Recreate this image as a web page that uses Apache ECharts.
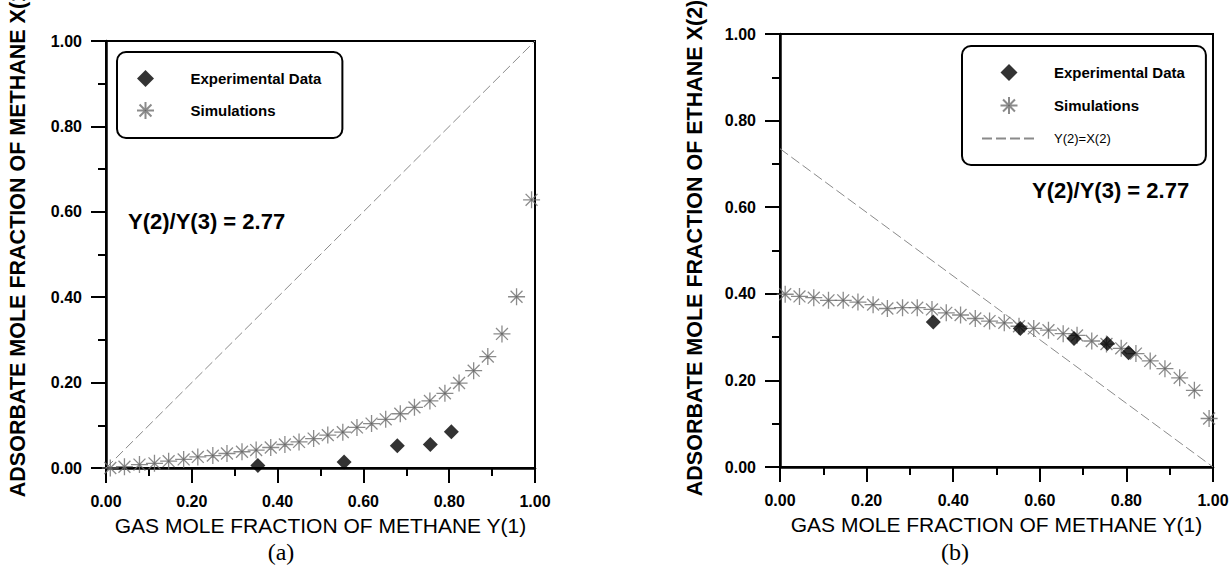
<!DOCTYPE html>
<html>
<head>
<meta charset="utf-8">
<script src="https://cdn.jsdelivr.net/npm/echarts@6.0.0/dist/echarts.min.js"></script>
<style>
  html, body { margin: 0; padding: 0; background: #fff; }
  #chart { width: 1232px; height: 565px; }
</style>
</head>
<body>
<div id="chart"></div>
<script>
// values
const simX_a = [0.010, 0.043, 0.078, 0.113, 0.146, 0.181, 0.214, 0.249, 0.282, 0.317, 0.350, 0.384, 0.417, 0.450, 0.484,
  0.517, 0.552, 0.585, 0.619, 0.652, 0.686, 0.719, 0.755, 0.790, 0.823, 0.857, 0.890, 0.923, 0.957, 0.992];
const simY_a = [0.000, 0.003, 0.008, 0.011, 0.016, 0.020, 0.026, 0.029, 0.034, 0.038, 0.042, 0.048, 0.055, 0.061, 0.069,
  0.077, 0.084, 0.095, 0.104, 0.114, 0.127, 0.142, 0.157, 0.175, 0.199, 0.228, 0.261, 0.314, 0.401, 0.628];
const expX = [0.354, 0.555, 0.679, 0.756, 0.805];
const expY_a = [0.006, 0.014, 0.052, 0.055, 0.085];
const lineX_a = [0, 1];
const lineY_a = [0, 1];

const simX_b = [0.012, 0.045, 0.078, 0.112, 0.146, 0.180, 0.215, 0.248, 0.283, 0.317, 0.351, 0.384, 0.417, 0.451, 0.484,
  0.518, 0.552, 0.586, 0.620, 0.654, 0.686, 0.720, 0.754, 0.788, 0.822, 0.855, 0.889, 0.923, 0.957, 0.991];
const simY_b = [0.399, 0.394, 0.391, 0.385, 0.385, 0.381, 0.375, 0.366, 0.368, 0.368, 0.364, 0.356, 0.351, 0.343, 0.337,
  0.333, 0.325, 0.320, 0.316, 0.308, 0.304, 0.291, 0.284, 0.274, 0.262, 0.245, 0.227, 0.206, 0.177, 0.112];
const expY_b = [0.335, 0.320, 0.297, 0.285, 0.264];
const lineX_b = [0, 1];
const lineY_b = [0.735, 0];

const FONT = "'Liberation Sans', Arial, sans-serif";
// 8-spoke asterisk with a small dark centre, and a square diamond
const STAR = 'path://M10,0L10,20M0,10L20,10M3,3L17,17M3,17L17,3M9,9L11,9L11,11L9,11Z';
const DIAMOND = 'path://M10,0L20,10L10,20L0,10Z';

const pairs = (xs, ys) => xs.map((x, i) => [x, ys[i]]);

const makeX = (gridIndex) => ({
  gridIndex,
  type: 'value',
  min: 0,
  max: 1,
  interval: 0.2,
  name: 'GAS MOLE FRACTION OF METHANE Y(1)',
  nameLocation: 'middle',
  nameGap: 47,
  nameTextStyle: { fontFamily: FONT, fontSize: 21, color: '#000' },
  axisLine: { onZero: false, lineStyle: { color: '#000', width: 2.5 } },
  axisTick: { length: 15, lineStyle: { color: '#000', width: 2 } },
  minorTick: { show: true, splitNumber: 2, length: 8, lineStyle: { color: '#000', width: 2 } },
  splitLine: { show: false },
  axisLabel: {
    margin: 25, fontFamily: FONT, fontWeight: 'bold', fontSize: 16, color: '#000',
    formatter: v => v.toFixed(2)
  }
});

const makeY = (gridIndex) => ({
  gridIndex,
  type: 'value',
  min: 0,
  max: 1,
  interval: 0.2,
  axisLine: { onZero: false, lineStyle: { color: '#000', width: 2.5 } },
  axisTick: { length: 15, lineStyle: { color: '#000', width: 2 } },
  minorTick: { show: true, splitNumber: 2, length: 8, lineStyle: { color: '#000', width: 2 } },
  splitLine: { show: false },
  axisLabel: {
    margin: 24, fontFamily: FONT, fontWeight: 'bold', fontSize: 16, color: '#000',
    formatter: v => v.toFixed(2)
  }
});

const expSeries = (idx, ys) => ({
  name: 'Experimental Data',
  type: 'scatter',
  xAxisIndex: idx,
  yAxisIndex: idx,
  symbol: DIAMOND,
  symbolSize: 15,
  itemStyle: { color: '#000' },
  z: 4,
  data: pairs(expX, ys)
});

const simSeries = (idx, xs, ys) => ({
  name: 'Simulations',
  type: 'scatter',
  xAxisIndex: idx,
  yAxisIndex: idx,
  symbol: STAR,
  symbolSize: 17,
  itemStyle: { color: '#111', borderColor: '#6e6e6e', borderWidth: 1.3 },
  z: 3,
  data: pairs(xs, ys)
});

const lineSeries = (idx, name, xs, ys) => ({
  name,
  type: 'line',
  xAxisIndex: idx,
  yAxisIndex: idx,
  symbol: 'none',
  silent: true,
  itemStyle: { color: 'rgba(0,0,0,0)', borderColor: 'rgba(0,0,0,0)' },
  lineStyle: { color: '#8a8a8a', width: 1, type: [10, 4] },
  z: 2,
  data: pairs(xs, ys)
});

const legendBox = (left, top, names, gap) => ({
  left,
  top,
  orient: 'vertical',
  itemWidth: 54,
  itemHeight: 17,
  itemGap: gap,
  padding: [18, 21, 18, 19],
  borderColor: '#000',
  borderWidth: 2,
  borderRadius: 9,
  selectedMode: false,
  textStyle: { fontFamily: FONT, fontWeight: 'bold', fontSize: 15, color: '#000', padding: [0, 0, 0, 13], lineHeight: 17 },
  data: names
});

const option = {
  animation: false,
  backgroundColor: '#fff',
  grid: [
    { left: 106, top: 41, width: 429, height: 427, show: true, borderColor: '#000', borderWidth: 2 },
    { left: 780, top: 34, width: 433, height: 433, show: true, borderColor: '#000', borderWidth: 2 }
  ],
  xAxis: [makeX(0), makeX(1)],
  yAxis: [makeY(0), makeY(1)],
  legend: [
    legendBox(117, 52, ['Experimental Data', 'Simulations'], 14),
    legendBox(962, 46, [
      'Experimental Data',
      'Simulations',
      { name: 'Y(2)=X(2)', textStyle: { fontWeight: 'normal', fontSize: 13 } }
    ], 15)
  ],
  graphic: [
    {
      type: 'text', x: 18, y: 240, rotation: Math.PI / 2,
      style: { text: 'ADSORBATE MOLE FRACTION OF METHANE X(1)', font: 'bold 21.5px ' + FONT, fill: '#000', align: 'center', verticalAlign: 'middle' }
    },
    {
      type: 'text', x: 695, y: 248, rotation: Math.PI / 2,
      style: { text: 'ADSORBATE MOLE FRACTION OF ETHANE X(2)', font: 'bold 21.5px ' + FONT, fill: '#000', align: 'center', verticalAlign: 'middle' }
    },
    {
      type: 'text', x: 128, y: 221,
      style: { text: 'Y(2)/Y(3) = 2.77', font: 'bold 22px ' + FONT, fill: '#000', verticalAlign: 'middle' }
    },
    {
      type: 'text', x: 1032, y: 190,
      style: { text: 'Y(2)/Y(3) = 2.77', font: 'bold 22px ' + FONT, fill: '#000', verticalAlign: 'middle' }
    },
    {
      type: 'text', x: 281, y: 552,
      style: { text: '(a)', font: "24px 'Liberation Serif', 'Times New Roman', serif", fill: '#000', align: 'center', verticalAlign: 'middle' }
    },
    {
      type: 'text', x: 955, y: 552,
      style: { text: '(b)', font: "24px 'Liberation Serif', 'Times New Roman', serif", fill: '#000', align: 'center', verticalAlign: 'middle' }
    }
  ],
  series: [
    lineSeries(0, 'Y(1)=X(1)', lineX_a, lineY_a),
    simSeries(0, simX_a, simY_a),
    expSeries(0, expY_a),
    lineSeries(1, 'Y(2)=X(2)', lineX_b, lineY_b),
    simSeries(1, simX_b, simY_b),
    expSeries(1, expY_b)
  ]
};

const myChart = echarts.init(document.getElementById('chart'), null, { renderer: 'svg' });
myChart.setOption(option);
</script>
</body>
</html>
